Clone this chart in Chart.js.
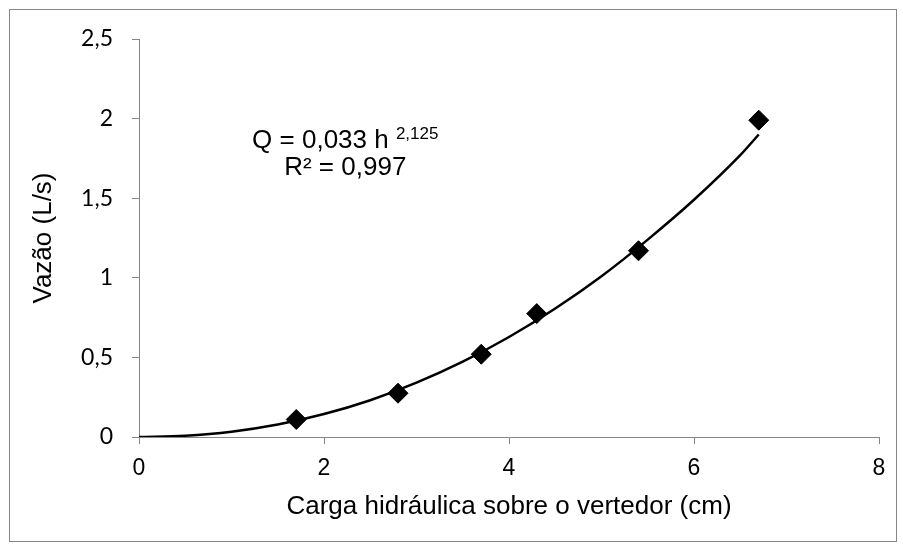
<!DOCTYPE html>
<html>
<head>
<meta charset="utf-8">
<script src="https://cdn.jsdelivr.net/npm/chart.js@4"></script>
<style>
  html, body { margin: 0; padding: 0; background: #fff; }
</style>
</head>
<body>
<canvas id="grafico" width="903" height="547"></canvas>
<script>
// Pontos medidos (carga h em cm, vazão Q em L/s)
const cargas = [1.7, 2.8, 3.7, 4.3, 5.4, 6.7];
const vazoes = [0.11, 0.275, 0.52, 0.775, 1.17, 1.99];

// Linha de tendência (potência)
const cargasTendencia = [0, 0.5, 1, 1.5, 2, 2.5, 3, 3.5, 4, 4.5, 5, 5.5, 6, 6.5, 6.7];
const vazoesTendencia = [0, 0.008, 0.033, 0.078, 0.144, 0.231, 0.341, 0.473, 0.628, 0.807, 1.01, 1.24, 1.49, 1.77, 1.90];

// Texto da equação
const equacao = 'Q = 0,033 h ';
const expoente = '2,125';
const r2 = 'R² = 0,997';

const cinza = '#868686';
const fonte = '"Liberation Sans", Arial, sans-serif';
const fonteNum = 'Lato, "Liberation Sans", sans-serif';

// Moldura externa + equação
const extras = {
  id: 'extras',
  afterDraw(chart) {
    const ctx = chart.ctx;
    ctx.save();
    ctx.strokeStyle = cinza;
    ctx.lineWidth = 1;
    ctx.strokeRect(9.5, 9.5, 887, 532);

    const x = chart.scales.x.getPixelForValue(2.23);
    const y = chart.scales.y.getPixelForValue(1.814);
    ctx.fillStyle = '#000';
    ctx.textBaseline = 'alphabetic';
    ctx.textAlign = 'left';
    ctx.font = '26px ' + fonte;
    const w1 = ctx.measureText(equacao).width;
    ctx.font = '17px ' + fonte;
    const w2 = ctx.measureText(expoente).width;
    const x0 = x - (w1 + w2) / 2;
    ctx.font = '26px ' + fonte;
    ctx.fillText(equacao, x0, y);
    ctx.font = '17px ' + fonte;
    ctx.fillText(expoente, x0 + w1, y - 9);
    ctx.font = '26px ' + fonte;
    ctx.textAlign = 'center';
    ctx.fillText(r2, x, y + 27);
    ctx.restore();
  }
};

const virgula = v => String(v).replace('.', ',');

new Chart(document.getElementById('grafico'), {
  type: 'scatter',
  data: {
    datasets: [
      {
        label: 'Medido',
        data: cargas.map((h, i) => ({ x: h, y: vazoes[i] })),
        pointStyle: 'rectRot',
        pointRadius: 10,
        pointBackgroundColor: '#000',
        pointBorderColor: '#000',
        order: 1
      },
      {
        label: 'Tendência',
        data: cargasTendencia.map((h, i) => ({ x: h, y: vazoesTendencia[i] })),
        showLine: true,
        borderColor: '#000',
        borderWidth: 2.5,
        pointRadius: 0,
        cubicInterpolationMode: 'monotone',
        order: 2
      }
    ]
  },
  options: {
    responsive: false,
    animation: false,
    layout: { padding: { left: 10, right: 24, top: 39, bottom: 0 } },
    plugins: {
      legend: { display: false },
      tooltip: { enabled: false }
    },
    scales: {
      x: {
        type: 'linear',
        min: 0,
        max: 8,
        afterFit: s => { s.height = 110; },
        border: { display: true, color: cinza, width: 1 },
        grid: { drawOnChartArea: false, drawTicks: true, tickLength: 7, color: cinza },
        ticks: { stepSize: 2, padding: 11, color: '#000', font: { family: fonte, size: 23 }, callback: virgula },
        title: {
          display: true,
          text: 'Carga hidráulica sobre o vertedor (cm)',
          color: '#000',
          font: { family: fonte, size: 26 },
          padding: { top: 0, bottom: 25 }
        }
      },
      y: {
        type: 'linear',
        min: 0,
        max: 2.5,
        afterFit: s => { s.width = 129; },
        border: { display: true, color: cinza, width: 1 },
        grid: { drawOnChartArea: false, drawTicks: true, tickLength: 7, color: cinza },
        ticks: { stepSize: 0.5, padding: 19, color: '#000', font: { family: fonteNum, size: 23 }, callback: virgula },
        title: {
          display: true,
          text: 'Vazão (L/s)',
          color: '#000',
          font: { family: fonte, size: 26 },
          padding: { top: 18, bottom: 0 }
        }
      }
    }
  },
  plugins: [extras]
});
</script>
</body>
</html>
